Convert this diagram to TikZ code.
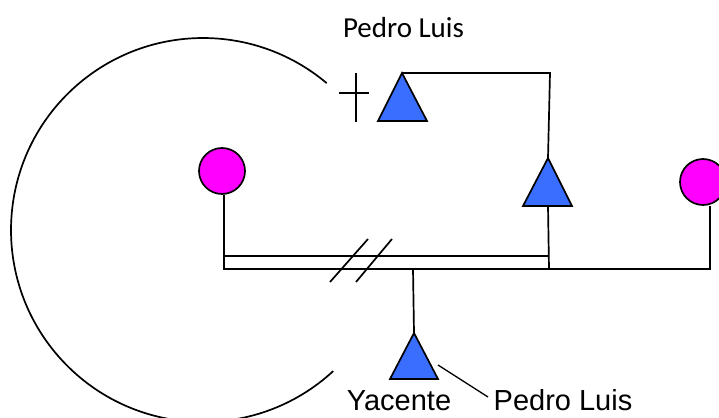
\documentclass[tikz,border=0pt]{standalone}
\usepackage{fontspec}
\setmainfont{Liberation Sans}
\newfontfamily\calib{Carlito}
\definecolor{triblue}{HTML}{3A6EFF}
\definecolor{mag}{HTML}{FF00FF}
\begin{document}
\begin{tikzpicture}[x=1pt,y=-1pt,line width=1.7pt,
  dot/.style={circle,draw=black,fill=mag,minimum size=46pt,inner sep=0pt,line width=1.7pt},
  tri/.style={draw=black,fill=triblue,line width=1.7pt,line join=miter},
  lbl/.style={inner sep=0pt,anchor=base,font=\fontsize{29}{34}\selectfont},
  wire/.style={line width=1.7pt}]
\useasboundingbox (0,0) rectangle (719,417);
% big arc
\draw[wire] (203,230) ++(47.3:192) arc[start angle=47.3,end angle=310.1,radius=192];
% cross
\coordinate (crL) at (339,93); \coordinate (crR) at (369,93);
\coordinate (crT) at (356,73); \coordinate (crB) at (356,122);
\draw[wire] (crL) -- (crR) (crT) -- (crB);
% triangles
\coordinate (t1a) at (402,73); \coordinate (t1l) at (378,121); \coordinate (t1r) at (427,121);
\coordinate (t2a) at (548,158); \coordinate (t2l) at (523,206); \coordinate (t2r) at (572,206);
\coordinate (t2b) at (548,206);
\coordinate (t3a) at (414,333); \coordinate (t3l) at (390,379); \coordinate (t3r) at (438,379);
\filldraw[tri] (t1a) -- (t1l) -- (t1r) -- cycle;
\filldraw[tri] (t2a) -- (t2l) -- (t2r) -- cycle;
\filldraw[tri] (t3a) -- (t3l) -- (t3r) -- cycle;
% circles
\node[dot] (c1) at (222,171) {};
\node[dot] (c2) at (703,182) {};
% connectors
\coordinate (tr) at (550,73);
\draw[wire] (t1a) -- (tr) -- (t2a);
\coordinate (busL) at (224,269); \coordinate (busLu) at (224,256);
\coordinate (busR) at (710,269);
\coordinate (busMu) at (549,256); \coordinate (busM) at (549,269);
\coordinate (busB) at (413,269);
\draw[wire] (c1.south -| busL) -- (busL) -- (busR) -- (busR |- c2.south);
\draw[wire] (busLu) -- (busMu);
\draw[wire] (t2b) -- (busM);
\draw[wire] (busB) -- (t3a);
% double slash
\coordinate (s1a) at (330,282); \coordinate (s1b) at (368,239);
\coordinate (s2a) at (356,282); \coordinate (s2b) at (392,239);
\draw[wire] (s1a) -- (s1b) (s2a) -- (s2b);
% labels
\node[lbl,font=\calib\fontsize{29}{34}\selectfont] (top) at (403.5,38) {Pedro Luis};
\node[lbl] (yac) at (399,410) {Yacente};
\node[lbl] (pl) at (563,410) {Pedro Luis};
\coordinate (ptr) at (488,397);
\draw[line width=1.3pt] (438,365) -- (ptr);
\end{tikzpicture}
\end{document}
